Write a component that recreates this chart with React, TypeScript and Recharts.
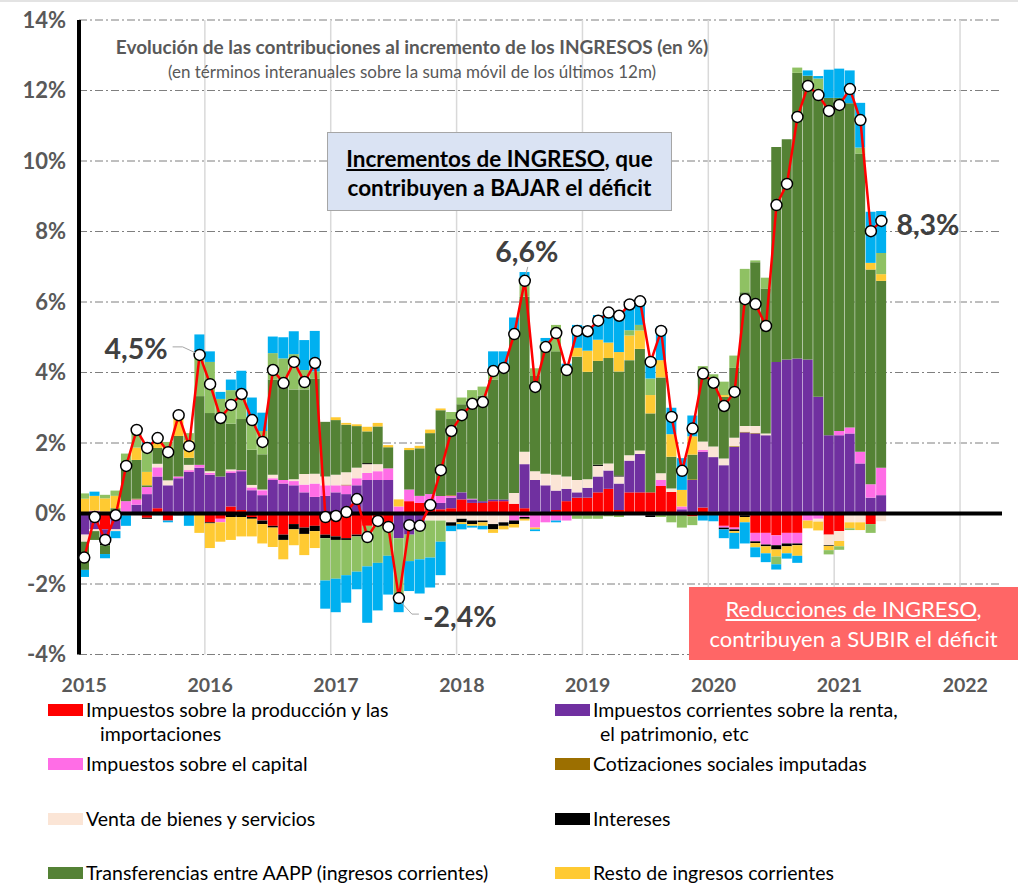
import React from 'react';
import {
  ComposedChart, Bar, Line, XAxis, YAxis, CartesianGrid, ReferenceLine, ReferenceDot,
} from 'recharts';

// Monthly categories: Jan 2015 .. Apr 2022 (data up to May 2021)
const MONTHS: string[] = [];
for (let y = 2015; y <= 2022; y++) {
  for (let m = 1; m <= 12; m++) {
    if (y === 2022 && m > 4) break;
    MONTHS.push(`${y}-${String(m).padStart(2, '0')}`);
  }
}
const YEAR_TICKS = ['2015-01', '2016-01', '2017-01', '2018-01', '2019-01', '2020-01', '2021-01', '2022-01'];
const YEAR_LINES = ['2016-01', '2017-01', '2018-01', '2019-01', '2020-01', '2021-01', '2022-01'];
const Y_TICKS = [-4, -2, 0, 2, 4, 6, 8, 10, 12, 14];

const PROD = [
  0, 0, -0.45, -0.15, 0, 0, -0.12, 0.15, -0.2, 0.05, 0, 0,
  -0.25, -0.15, 0.2, 0.1, -0.1, -0.2, -0.35, -0.6, -0.3, -0.4, -0.35, -0.6,
  -0.65, -0.7, -0.6, -0.35, -0.35, -0.25, 0, 0.35, 0.3, 0.15, 0.12, 0.15,
  0.4, 0.3, 0.3, 0.35, 0.35, 0.28, 0.15, 0.05, 0, 0.1, 0.35, 0.45,
  0.45, 0.6, 0.7, 0.1, 0.6, 0.6, 0.6, 0.78, 0.61, 0, -0.08, 0.17,
  0.05, -0.35, -0.4, -0.05, -0.55, -0.55, -0.62, -0.55, -0.55, 0, 0, -0.6,
  -0.5, 0, 0, -0.3, 0,
];
const RENTA = [
  -0.6, -0.45, -0.3, -0.3, 0.05, 0.25, 0.55, 0.9, 0.8, 0.95, 1.18, 1.3,
  1.1, 1.05, 0.95, 1.1, 0.66, 0.52, 0.95, 0.85, 0.8, 0.6, 0.47, 0.5,
  0.6, 0.55, 0.8, 0.95, 0.95, 0.95, -0.7, -0.6, -0.35, 0.1, 0.18, 0.3,
  0.2, 0.1, 0.05, 0.05, 0.05, 0, 1.25, 0.9, 0.8, 0.55, 0.35, 0.15,
  0.28, 0.45, 0.52, 0.75, 0.9, 1.09, 0, 0, 0, 0.12, 0.95, 1.58,
  1.55, 1.37, 1.89, 2.3, 2.27, 2.22, 4.3, 4.37, 4.4, 4.37, 3.31, 2.22,
  2.22, 2.27, 1.42, 0.45, 0.52,
];
const CAPITAL = [
  0, 0.08, 0.05, 0, 0.3, 0.15, 0.2, 0.26, 0, 0.05, 0.05, 0.08,
  0.05, -0.1, 0.05, 0.03, 0.08, 0.14, 0.05, 0.1, 0.12, 0.22, 0.38, 0.3,
  0.2, 0.25, 0.2, 0.2, 0.25, 0.33, 0.2, 0.33, 0.2, 0.3, 0.2, 0.05,
  0, 0.02, 0, -0.05, -0.05, -0.2, -0.1, -0.4, -0.25, -0.2, -0.2, -0.05,
  -0.05, -0.05, -0.03, 0, 0, 0, -0.05, 0.17, 0, 0.08, 0, 0.05,
  0, -0.05, -0.05, 0, -0.24, -0.33, -0.28, -0.3, -0.3, -0.2, -0.15, 0,
  0.12, 0.17, 0.33, 0.38, 0.78,
];
const COTIZ = [
  0, 0, 0, 0, 0, 0.02, 0, 0, 0, 0, 0, 0,
  0, 0, 0, 0, 0, 0, 0, 0, 0, 0, 0, 0,
  0, 0.02, 0, 0, 0, 0, 0, 0, 0, 0, 0, 0.02,
  0, 0, 0, 0, 0, 0, 0, 0, 0, 0, 0, 0,
  0, 0, 0, 0, 0, 0, 0, 0, 0, 0, 0.02, 0,
  0, 0, 0.02, 0.02, 0.02, 0, 0, 0, 0, 0, 0, 0,
  0, 0, 0, 0, 0,
];
const VENTA = [
  -0.2, -0.05, -0.1, -0.05, -0.05, 0, 0, 0.1, 0.14, 0, 0.15, 0,
  0.05, 0, 0.05, 0, 0.07, 0.02, 0.1, 0, 0.05, 0.3, 0.28, 0.25,
  0.3, 0.35, 0.3, 0.25, 0.2, 0, 0, 0, 0, -0.2, -0.2, -0.25,
  -0.15, -0.2, -0.2, -0.25, -0.2, 0.3, 0.35, 0.25, 0.33, 0.45, 0.35, 0.35,
  0.24, 0.3, 0.2, 0.2, 0.15, 0.1, 0, 0.19, 0.1, 0, 0, 0.24,
  0.3, 0.19, 0.24, 0.16, 0.19, 0.05, 0, 0, 0, 0, -0.08, -0.3,
  -0.28, -0.25, -0.25, 0, -0.22,
];
const INTERESES = [
  0, 0, -0.05, 0, 0, 0, -0.03, 0, 0, -0.05, 0, 0,
  -0.03, 0, -0.1, -0.1, -0.05, -0.1, -0.05, -0.15, -0.15, -0.18, -0.15, -0.1,
  -0.1, -0.05, -0.05, 0.03, 0, 0, 0, 0, 0, 0, 0, -0.1,
  -0.1, -0.1, -0.05, -0.15, -0.1, -0.1, -0.05, 0, 0, 0, 0, 0,
  0, 0.03, 0, 0.03, 0, -0.03, -0.05, 0, 0, -0.05, 0, 0,
  0, -0.05, -0.05, -0.05, -0.05, -0.05, -0.12, -0.08, -0.05, 0, 0, -0.02,
  0, 0, 0, 0, 0,
];
const TRANSF = [
  -0.8, -0.25, -0.25, 0.15, 1.05, 1.1, 0.05, 0.45, 0.7, 1.15, 0.2, 1.95,
  1.65, 1.55, 1.3, 1.45, 1.0, 1.0, 2.7, 2.75, 2.55, 2.4, 2.7, 1.55,
  1.55, 1.35, 1.18, 0.9, 1.07, 0.6, 0, 1.12, 1.35, 1.73, 2.43, 2.16,
  2.5, 2.85, 3.0, 3.4, 3.6, 4.6, 4.4, 2.7, 3.5, 3.5, 2.9, 3.5,
  3.05, 2.95, 2.99, 2.95, 2.7, 2.88, 2.24, 2.72, 0.9, 0, 0.7, 2.0,
  1.85, 1.75, 1.98, 3.8, 4.65, 4.11, 6.1, 6.25, 8.1, 8.05, 8.72, 9.57,
  9.45, 9.2, 8.46, 6.09, 5.3,
];
const RESTO = [
  0.42, 0.42, 0.38, 0.35, 0, 0.35, 0.38, 0.25, 0.25, 0.55, 0.5, -0.55,
  -0.7, -0.55, -0.65, -0.55, -0.5, -0.55, -0.55, -0.55, -0.45, -0.6, -0.48, 0,
  0.08, 0.05, 0.05, 0.13, 0.1, 0.06, 0.2, 0.06, 0.07, 0.1, 0.05, 0,
  -0.05, -0.05, -0.1, -0.1, -0.1, -0.1, -0.05, -0.05, 0, 0, 0.1, 0.25,
  0.6, 0.6, 0.44, 0.55, 0.7, 0.52, 0.52, 0.49, 0.64, 0.47, 0.52, 0,
  0, 0.05, -0.05, -0.15, -0.12, -0.2, -0.2, -0.2, -0.3, -0.22, -0.25, -0.12,
  -0.15, -0.17, -0.22, 0.19, 0.19,
];
const TRANSF_CAP = [
  0.15, 0, 0.1, 0.15, 0.3, 0.45, 0.75, 0.1, 0.14, 0.1, 0.2, 1.2,
  1.45, 0.65, 0.95, 0.72, 0.8, 0.66, 0.75, 0.7, 1.0, 0.55, 0.2, -1.2,
  -1.1, -1.0, -1.0, -1.15, -1.05, -0.95, -1.75, -0.75, -0.95, -1.05, -0.6, 0.2,
  0.19, 0.23, 0.25, 0.15, 0.1, 0, 0.5, 0.22, 0.25, 0.75, 0, -0.1,
  -0.1, -0.1, -0.05, -0.1, 0.15, 0.16, 0.47, -0.1, -0.25, -0.35, -0.25, 0.14,
  0.2, 0.38, 0.35, 0.66, 0.05, 0.31, -0.22, 0, 0.15, 0, 0.31, -0.12,
  -0.1, -0.05, 0.17, -0.25, 0.6,
];
const OTROS = [
  -0.2, 0.12, -0.12, -0.2, -0.3, 0.05, 0.1, -0.05, -0.05, 0, -0.35, 0.55,
  0.3, 0.2, 0.3, 0.65, 0.68, 0.52, 0.47, 0.6, 0.65, 0.85, 1.15, -0.8,
  -0.95, -0.78, -0.5, -1.6, -1.35, -1.1, -0.35, -0.85, -0.97, -0.85, -0.95, -0.15,
  -0.15, -0.05, -0.1, 0.65, 0.5, 0.38, 0.2, -0.05, 0.1, -0.05, 0.2, 0.65,
  0.7, 0.7, 0.9, 1.1, 0.7, 0.74, 0.57, 0.95, 0.75, 0.9, 0.59, -0.2,
  -0.22, -0.25, -0.45, -0.6, -0.28, -0.25, -0.15, -0.15, -0.2, 0.15, 0.07, 0.8,
  0.83, 0.93, 1.27, 1.45, 1.19,
];
const TOTAL = [
  -1.25, -0.1, -0.75, -0.05, 1.35, 2.37, 1.86, 2.14, 1.74, 2.79, 1.91, 4.5,
  3.67, 2.71, 3.08, 3.39, 2.65, 2.03, 4.07, 3.7, 4.3, 3.73, 4.27, -0.1,
  -0.07, 0.04, 0.41, -0.67, -0.21, -0.38, -2.4, -0.33, -0.35, 0.24, 1.23, 2.34,
  2.79, 3.11, 3.16, 4.04, 4.13, 5.09, 6.6, 3.59, 4.72, 5.12, 4.07, 5.18,
  5.17, 5.47, 5.7, 5.61, 5.93, 6.02, 4.3, 5.18, 2.74, 1.21, 2.41, 3.97,
  3.71, 3.05, 3.45, 6.08, 5.94, 5.32, 8.75, 9.35, 11.25, 12.13, 11.87, 11.42,
  11.59, 12.04, 11.16, 8.01, 8.3,
];

const SERIES = [
  { key: 'prod', name: 'Impuestos sobre la producción y las importaciones', color: '#ff0000', values: PROD },
  { key: 'renta', name: 'Impuestos corrientes sobre la renta, el patrimonio, etc', color: '#7030a0', values: RENTA },
  { key: 'capital', name: 'Impuestos sobre el capital', color: '#ff6de6', values: CAPITAL },
  { key: 'cotiz', name: 'Cotizaciones sociales imputadas', color: '#9c6f00', values: COTIZ },
  { key: 'venta', name: 'Venta de bienes y servicios', color: '#fbe5d6', values: VENTA },
  { key: 'inter', name: 'Intereses', color: '#000000', values: INTERESES },
  { key: 'transf', name: 'Transferencias entre AAPP (ingresos corrientes)', color: '#548235', values: TRANSF },
  { key: 'resto', name: 'Resto de ingresos corrientes', color: '#ffca32', values: RESTO },
  { key: 'transfCap', name: 'Transferencias de capital', color: '#8fc163', values: TRANSF_CAP },
  { key: 'otros', name: 'Otros ingresos', color: '#00b0f0', values: OTROS },
];

const data = MONTHS.map((m, i) => {
  const row: Record<string, any> = { m, total: i < TOTAL.length ? TOTAL[i] : null };
  SERIES.forEach((s) => { row[s.key] = i < s.values.length ? s.values[i] : 0; });
  return row;
});

const GRAY = '#595959';
const FONT = 'Lato, "Open Sans", sans-serif';

type AnnProps = { cx?: number; cy?: number; kind: string; text: string };
const Annotation = ({ cx = 0, cy = 0, kind, text }: AnnProps) => {
  const style = { fontFamily: FONT, fontWeight: 700, fontSize: 28.5, fill: '#404040' };
  if (kind === 'left') {
    return (
      <g>
        <polyline points={`${cx - 27},${cy - 8} ${cx - 17},${cy - 8} ${cx - 4},${cy - 2}`} fill="none" stroke="#a6a6a6" strokeWidth={1} />
        <text x={cx - 32} y={cy - 7} textAnchor="end" dominantBaseline="central" style={style}>{text}</text>
      </g>
    );
  }
  if (kind === 'top') {
    return (
      <g>
        <line x1={cx + 1} y1={cy - 6} x2={cx + 3} y2={cy - 14} stroke="#a6a6a6" strokeWidth={1} />
        <text x={cx + 2} y={cy - 30} textAnchor="middle" dominantBaseline="central" style={style}>{text}</text>
      </g>
    );
  }
  if (kind === 'below') {
    return (
      <g>
        <polyline points={`${cx + 2},${cy + 4} ${cx + 13},${cy + 16} ${cx + 20},${cy + 16}`} fill="none" stroke="#a6a6a6" strokeWidth={1} />
        <text x={cx + 24} y={cy + 18} textAnchor="start" dominantBaseline="central" style={style}>{text}</text>
      </g>
    );
  }
  return (
    <text x={cx + 15} y={cy + 3} textAnchor="start" dominantBaseline="central" style={style}>{text}</text>
  );
};

const LEGEND_ITEMS = [
  { color: '#ff0000', lines: ['Impuestos sobre la producción y las', 'importaciones'], x: 48, y: 710, indent: 52 },
  { color: '#7030a0', lines: ['Impuestos corrientes sobre la renta,', 'el patrimonio, etc'], x: 555, y: 710, indent: 45 },
  { color: '#ff6de6', lines: ['Impuestos sobre el capital'], x: 48, y: 764, indent: 0 },
  { color: '#9c6f00', lines: ['Cotizaciones sociales imputadas'], x: 555, y: 764, indent: 0 },
  { color: '#fbe5d6', lines: ['Venta de bienes y servicios'], x: 48, y: 819, indent: 0 },
  { color: '#000000', lines: ['Intereses'], x: 555, y: 819, indent: 0 },
  { color: '#548235', lines: ['Transferencias entre AAPP (ingresos corrientes)'], x: 48, y: 873, indent: 0 },
  { color: '#ffca32', lines: ['Resto de ingresos corrientes'], x: 555, y: 873, indent: 0 },
];

const App = () => {
  return (
    <div style={{ position: 'absolute', left: 0, top: 0, width: 1018, height: 884, background: '#fff', overflow: 'hidden', fontFamily: FONT }}>
      <div style={{ position: 'absolute', left: 0, top: 0, width: 1018, height: 2, background: '#e3e3e3' }} />
      <ComposedChart
        width={1018}
        height={700}
        data={data}
        stackOffset="sign"
        barCategoryGap={0}
        barGap={0}
        margin={{ top: 20, right: 16, bottom: 0, left: 9 }}
        style={{ fontFamily: FONT }}
      >
        <CartesianGrid vertical={false} stroke="#7f7f7f" strokeDasharray="8 3 2 3" />
        {YEAR_LINES.map((y) => (
          <ReferenceLine key={y} x={y} position="start" stroke="#d9d9d9" strokeWidth={1.5} zIndex={-50} />
        ))}
        <XAxis
          dataKey="m"
          type="category"
          ticks={YEAR_TICKS}
          interval={0}
          tickFormatter={(v: string) => v.slice(0, 4)}
          axisLine={false}
          tickLine={false}
          tickMargin={18}
          height={45.5}
          tick={{ fill: GRAY, fontSize: 19.5, fontWeight: 700 }}
        />
        <YAxis
          type="number"
          domain={[-4, 14]}
          ticks={Y_TICKS}
          interval={0}
          tickFormatter={(v: number) => `${v}%`}
          axisLine={{ stroke: '#000', strokeWidth: 4 }}
          tickLine={false}
          tickMargin={7}
          width={70}
          tick={{ fill: GRAY, fontSize: 22, fontWeight: 700 }}
        />
        {SERIES.map((s) => (
          <Bar key={s.key} dataKey={s.key} name={s.name} stackId="a" fill={s.color} isAnimationActive={false} />
        ))}
        <ReferenceLine y={0} stroke="#000" strokeWidth={4} zIndex={350} />
        <Line
          type="linear"
          dataKey="total"
          name="Total"
          stroke="#ff0000"
          strokeWidth={2.5}
          dot={{ r: 5.5, fill: '#ffffff', stroke: '#000000', strokeWidth: 1.5 }}
          activeDot={false}
          connectNulls={false}
          isAnimationActive={false}
        />
        <ReferenceDot x={MONTHS[11]} y={TOTAL[11]} r={0} ifOverflow="visible" zIndex={2000}
          shape={(p: any) => <Annotation cx={p.cx} cy={p.cy} kind="left" text="4,5%" />} />
        <ReferenceDot x={MONTHS[42]} y={TOTAL[42]} r={0} ifOverflow="visible" zIndex={2000}
          shape={(p: any) => <Annotation cx={p.cx} cy={p.cy} kind="top" text="6,6%" />} />
        <ReferenceDot x={MONTHS[30]} y={TOTAL[30]} r={0} ifOverflow="visible" zIndex={2000}
          shape={(p: any) => <Annotation cx={p.cx} cy={p.cy} kind="below" text="-2,4%" />} />
        <ReferenceDot x={MONTHS[76]} y={TOTAL[76]} r={0} ifOverflow="visible" zIndex={2000}
          shape={(p: any) => <Annotation cx={p.cx} cy={p.cy} kind="right" text="8,3%" />} />
      </ComposedChart>

      {/* titles */}
      <div style={{ position: 'absolute', left: 0, width: 824, top: 36, textAlign: 'center', fontWeight: 700, fontSize: 19, color: GRAY, whiteSpace: 'nowrap', lineHeight: '22px' }}>
        Evolución de las contribuciones al incremento de los INGRESOS (en %)
      </div>
      <div style={{ position: 'absolute', left: 0, width: 824, top: 62, textAlign: 'center', fontSize: 17, color: GRAY, whiteSpace: 'nowrap', lineHeight: '20px' }}>
        (en términos interanuales sobre la suma móvil de los últimos 12m)
      </div>

      {/* boxes */}
      <div style={{ position: 'absolute', left: 327, top: 132, width: 345, height: 79, boxSizing: 'border-box', background: '#dae3f3', border: '1px solid #a6a6a6', color: '#000', fontWeight: 700, fontSize: 22.5, textAlign: 'center', lineHeight: '29px', paddingTop: 11, whiteSpace: 'nowrap' }}>
        <div><span style={{ textDecoration: 'underline' }}>Incrementos de INGRESO</span>, que</div>
        <div>contribuyen a BAJAR el déficit</div>
      </div>
      <div style={{ position: 'absolute', left: 689, top: 587, width: 340, height: 73, boxSizing: 'border-box', background: '#ff6666', color: '#fff', fontSize: 22, textAlign: 'center', lineHeight: '30px', paddingTop: 7, paddingRight: 11, whiteSpace: 'nowrap' }}>
        <div><span style={{ textDecoration: 'underline' }}>Reducciones de INGRESO</span>,</div>
        <div>contribuyen a SUBIR el déficit</div>
      </div>

      {/* legend */}
      {LEGEND_ITEMS.map((it) => (
        <div key={it.lines[0]} style={{ position: 'absolute', left: it.x, top: it.y - 12, color: '#000', fontSize: 19.5, lineHeight: '24px', whiteSpace: 'nowrap' }}>
          <div style={{ display: 'flex', alignItems: 'center' }}>
            <span style={{ display: 'inline-block', width: 35, height: 12, background: it.color, marginRight: 3 }} />
            <span>{it.lines[0]}</span>
          </div>
          {it.lines[1] && <div style={{ paddingLeft: it.indent }}>{it.lines[1]}</div>}
        </div>
      ))}
    </div>
  );
};

export default App;
